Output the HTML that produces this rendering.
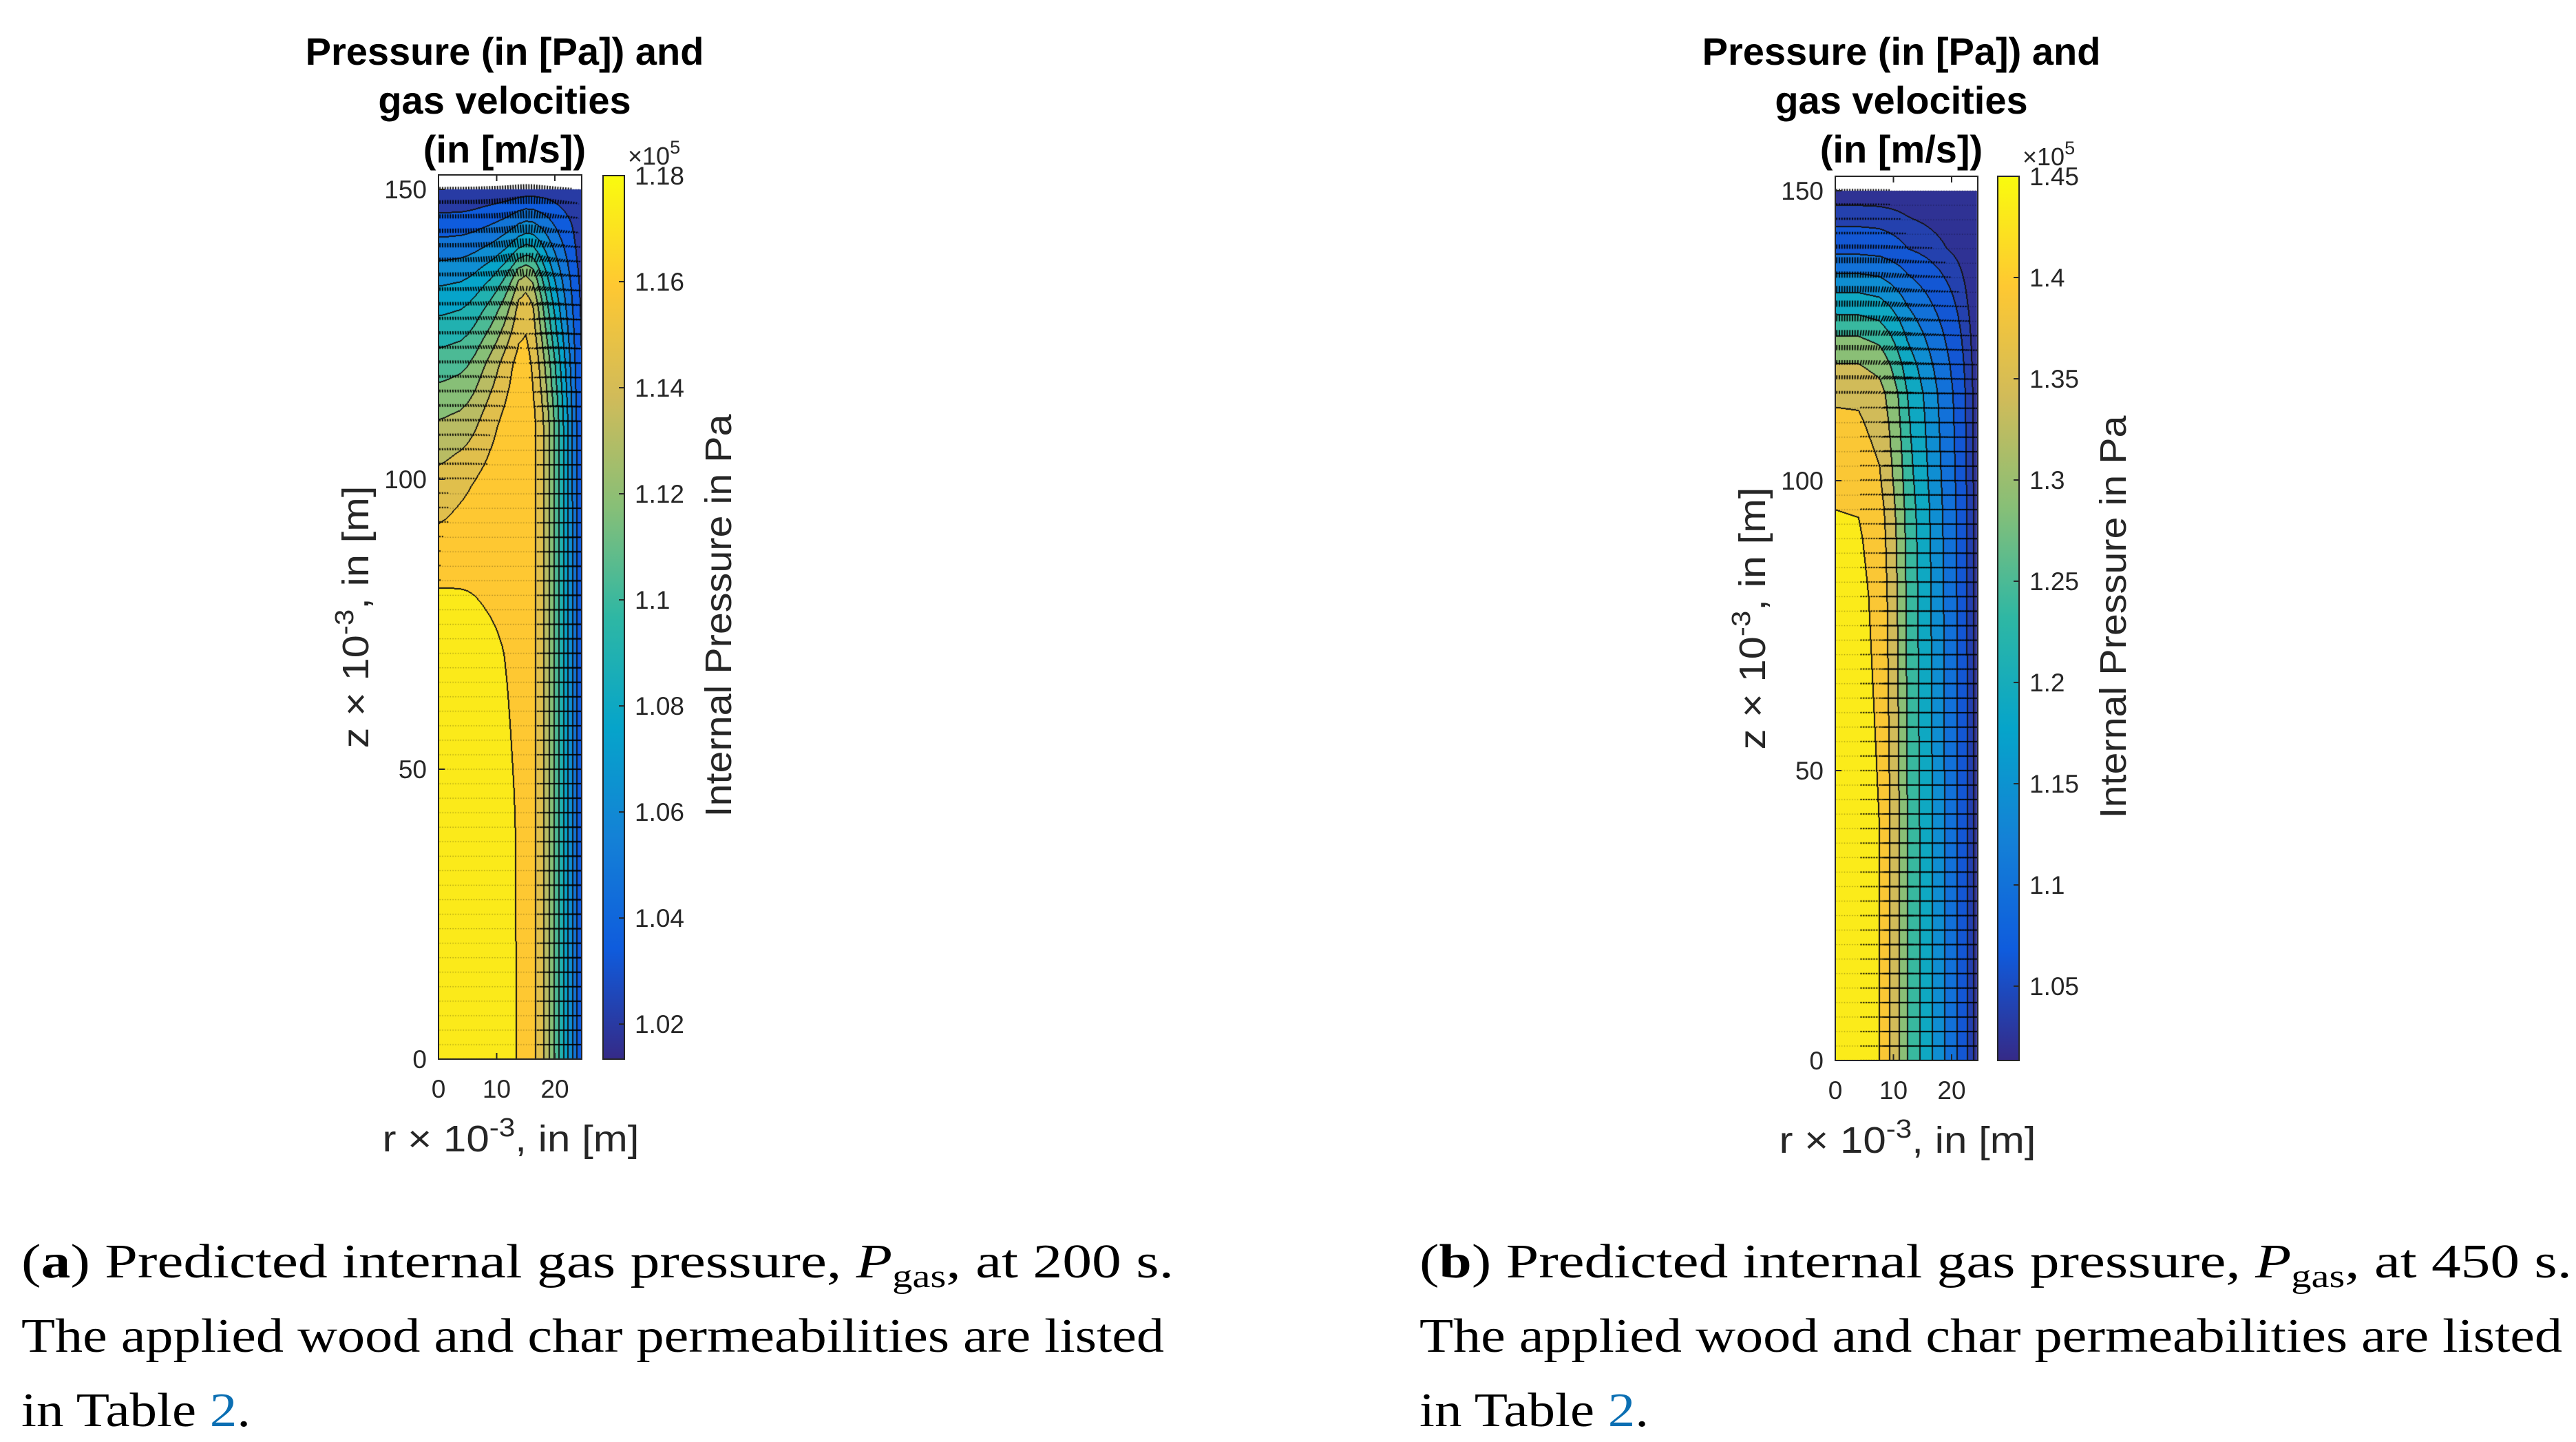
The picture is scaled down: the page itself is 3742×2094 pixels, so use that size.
<!DOCTYPE html>
<html><head><meta charset="utf-8">
<style>
html,body{margin:0;padding:0;background:#fff;}
#page{position:relative;width:3742px;height:2094px;overflow:hidden;background:#fff;}
canvas{position:absolute;}
svg{position:absolute;left:0;top:0;}
</style></head>
<body>
<div id="page">
<canvas id="cvA" style="left:637px;top:254px" width="208" height="1284"></canvas>
<canvas id="cvB" style="left:2666px;top:256px" width="207" height="1284"></canvas>
<svg id="svg" width="3742" height="2094" font-family="'Liberation Sans', Arial, sans-serif">
<defs>
<linearGradient id="parulaGrad" x1="0" y1="1" x2="0" y2="0">
<stop offset="0" stop-color="#352a87"/><stop offset="0.125" stop-color="#0f5cdd"/><stop offset="0.25" stop-color="#1481d6"/><stop offset="0.375" stop-color="#06a4ca"/><stop offset="0.5" stop-color="#2eb7a4"/><stop offset="0.625" stop-color="#87bf77"/><stop offset="0.75" stop-color="#d1bb59"/><stop offset="0.875" stop-color="#fec832"/><stop offset="1" stop-color="#f9fb0e"/>
</linearGradient>
</defs>
<g id="gA"></g>
<g id="gB"></g>
<g font-family="'Liberation Serif', serif" font-size="70" fill="#000">
<text x="31" y="1855" textLength="1674" lengthAdjust="spacingAndGlyphs">(<tspan font-weight="bold">a</tspan>) Predicted internal gas pressure, <tspan font-style="italic">P</tspan><tspan font-size="48" dy="14">gas</tspan><tspan dy="-14">, at 200 s.</tspan></text>
<text x="31" y="1963" textLength="1660" lengthAdjust="spacingAndGlyphs">The applied wood and char permeabilities are listed</text>
<text x="31" y="2071" textLength="333" lengthAdjust="spacingAndGlyphs">in Table <tspan fill="#0b6fb3">2</tspan>.</text>
</g>
<g font-family="'Liberation Serif', serif" font-size="70" fill="#000">
<text x="2062" y="1855" textLength="1674" lengthAdjust="spacingAndGlyphs">(<tspan font-weight="bold">b</tspan>) Predicted internal gas pressure, <tspan font-style="italic">P</tspan><tspan font-size="48" dy="14">gas</tspan><tspan dy="-14">, at 450 s.</tspan></text>
<text x="2062" y="1963" textLength="1660" lengthAdjust="spacingAndGlyphs">The applied wood and char permeabilities are listed</text>
<text x="2062" y="2071" textLength="333" lengthAdjust="spacingAndGlyphs">in Table <tspan fill="#0b6fb3">2</tspan>.</text>
</g>
</svg>
</div>
<script>
// ---------- Panel A data (pressure x1e5 Pa on r,z grid) ----------
const R_A = [0,5,10,13,15,16.5,18,19.5,21,22.5,24,25];
const Z_A = [0,40,70,80,90,100,110,120,130,135,140,145,150];
const P_A = [
[1.176,1.176,1.173,1.169,1.160,1.157,1.143,1.118,1.093,1.066,1.036,1.018],
[1.176,1.176,1.172,1.168,1.160,1.157,1.143,1.118,1.093,1.066,1.036,1.018],
[1.174,1.173,1.168,1.164,1.160,1.157,1.143,1.118,1.093,1.066,1.036,1.018],
[1.168,1.167,1.164,1.162,1.160,1.157,1.143,1.118,1.093,1.066,1.036,1.018],
[1.155,1.160,1.162,1.161,1.160,1.157,1.143,1.118,1.093,1.066,1.036,1.018],
[1.142,1.150,1.160,1.160,1.160,1.157,1.143,1.118,1.093,1.066,1.035,1.018],
[1.125,1.130,1.152,1.160,1.160,1.157,1.142,1.117,1.092,1.065,1.035,1.018],
[1.103,1.108,1.135,1.155,1.162,1.150,1.130,1.105,1.082,1.058,1.032,1.017],
[1.078,1.082,1.105,1.130,1.160,1.135,1.110,1.085,1.065,1.048,1.030,1.017],
[1.064,1.067,1.085,1.110,1.140,1.115,1.093,1.072,1.056,1.042,1.028,1.017],
[1.047,1.049,1.060,1.075,1.090,1.085,1.070,1.055,1.045,1.035,1.025,1.016],
[1.030,1.031,1.038,1.045,1.055,1.050,1.045,1.040,1.032,1.028,1.022,1.016],
[1.015,1.015,1.017,1.018,1.020,1.020,1.020,1.020,1.018,1.017,1.016,1.015]];
const LEVELS_A = [1.0273,1.0412,1.0551,1.069,1.0829,1.0968,1.1107,1.1246,1.1385,1.1524,1.1663];
const CLIM_A = [1.0134,1.18];
const CTICKS_A = [1.02,1.04,1.06,1.08,1.1,1.12,1.14,1.16,1.18];
// ---------- Panel B data (radial and axial pressure profiles) ----------
const R_B = [0,4,7.6,9.4,11,12.4,14.5,16.7,18.8,21,22.7,24.5];
const PR_B = [1.445,1.443,1.415,1.367,1.315,1.262,1.214,1.164,1.12,1.078,1.046,1.02];
const Z_B = [0,40,80,90,95,100,110,115,120,125,130,135,140,145,150];
const PZ_B = [1.445,1.445,1.43,1.422,1.415,1.40,1.375,1.36,1.318,1.262,1.197,1.13,1.066,1.04,1.02];
const LEVELS_B = [1.03,1.046,1.078,1.12,1.164,1.214,1.262,1.315,1.367,1.415];
const CLIM_B = [1.0133,1.45];
const CTICKS_B = [1.05,1.1,1.15,1.2,1.25,1.3,1.35,1.4,1.45];
// ---------- Axes ticks ----------
const ZTICKS = [0,50,100,150];
const RTICKS = [0,10,20];

const PAR = [[53,42,135],[15,92,221],[20,129,214],[6,164,202],[46,183,164],[135,191,119],[209,187,89],[254,200,50],[249,251,14]];
function parula(t){t=Math.max(0,Math.min(1,t));const f=t*8;const i=Math.min(7,Math.floor(f));const u=f-i;
 return PAR[i].map((c,k)=>Math.round(c+(PAR[i+1][k]-c)*u));}
function seg(A,x){let i=0;while(i<A.length-2&&x>A[i+1])i++;let u=(x-A[i])/(A[i+1]-A[i]);u=Math.max(0,Math.min(1,u));return [i,u];}
function interp1(X,Y,x){const [i,u]=seg(X,x);return Y[i]+(Y[i+1]-Y[i])*u;}
function rawA(r,z){const [i,u]=seg(R_A,r);const [j,v]=seg(Z_A,z);
 const a=P_A[j][i],b=P_A[j][i+1],c=P_A[j+1][i],d=P_A[j+1][i+1];
 return a*(1-u)*(1-v)+b*u*(1-v)+c*(1-u)*v+d*u*v;}
const OFF=[-1.2,0,1.2];
function fieldA(r,z){let s=0;for(const a of OFF)for(const b of OFF)s+=rawA(Math.max(0,r+a),Math.min(150,Math.max(0,z+b)));return s/9;}
const PMAX_B=Math.max(...PR_B,...PZ_B), PMIN_B=Math.min(...PR_B,...PZ_B);
function fieldB(r,z){const D=PMAX_B-PMIN_B;const fr=(PMAX_B-interp1(R_B,PR_B,r))/D;const fz=(PMAX_B-interp1(Z_B,PZ_B,z))/D;
 return PMAX_B-D*(1-(1-fr)*(1-fz));}

const SX=8.45, SY=8.42, ZTOP=152.5;
function drawPanel(cv,field,levels,clim,rmax,KR,KZ){
 const ctx=cv.getContext('2d');const W=cv.width,H=cv.height;
 const img=ctx.createImageData(W,H);const d=img.data;
 const y150=Math.round((ZTOP-150)*SY);
 const band=new Int16Array(W*H).fill(-1);
 const cols=[];
 for(let k=0;k<=levels.length;k++){const lo=k==0?clim[0]:levels[k-1];const hi=k==levels.length?clim[1]:levels[k];cols.push(parula(((lo+hi)/2-clim[0])/(clim[1]-clim[0])));}
 const wmax=Math.round(rmax*SX);
 for(let y=y150;y<H;y++){const z=ZTOP-(y+0.5)/SY;
  for(let x=0;x<Math.min(W,wmax);x++){const r=(x+0.5)/SX;const v=field(r,z);let k=0;while(k<levels.length&&v>levels[k])k++;band[y*W+x]=k;}}
 for(let y=0;y<H;y++)for(let x=0;x<W;x++){const p=(y*W+x)*4;const b=band[y*W+x];
  if(b<0){d[p]=255;d[p+1]=255;d[p+2]=255;d[p+3]=255;continue;}
  let edge=false;
  if(x+1<W&&band[y*W+x+1]>=0&&band[y*W+x+1]!=b)edge=true;
  if(x>0&&band[y*W+x-1]>=0&&band[y*W+x-1]!=b)edge=true;
  if(y+1<H&&band[(y+1)*W+x]!=b&&band[(y+1)*W+x]>=0)edge=true;
  if(y>0&&band[(y-1)*W+x]>=0&&band[(y-1)*W+x]!=b)edge=true;
  const c=edge?[20,20,20]:cols[b];d[p]=c[0];d[p+1]=c[1];d[p+2]=c[2];d[p+3]=255;}
 ctx.putImageData(img,0,0);
 ctx.strokeStyle='#000';ctx.lineWidth=1.8;ctx.lineCap='butt';
 const rng=clim[1]-clim[0],h=0.25;
 for(let z=0;z<=150.01;z+=2.5){for(let r=0.25;r<rmax-0.2;r+=0.45){
  const gr=(field(r+h,z)-field(Math.max(0,r-h),z))/(r-Math.max(0,r-h)+h);
  const gz=(field(r,Math.min(150,z+h))-field(r,Math.max(0,z-h)))/((Math.min(150,z+h))-Math.max(0,z-h));
  let dx=-gr/rng*KR, dy=-gz/rng*KZ;const L=Math.hypot(dx,dy);const cap=13;
  if(L>cap){dx*=cap/L;dy*=cap/L;}
  const x0=r*SX,y0=(ZTOP-z)*SY;
  if(Math.hypot(dx,dy)<2.2){ctx.fillStyle='rgba(0,0,0,0.45)';ctx.fillRect(x0-0.6,y0-0.6,1.2,1.2);continue;}
  ctx.beginPath();ctx.moveTo(x0,y0);ctx.lineTo(x0+dx,y0-dy);ctx.stroke();}}
}
drawPanel(document.getElementById('cvA'),fieldA,LEVELS_A,CLIM_A,24.6,65,300);
drawPanel(document.getElementById('cvB'),fieldB,LEVELS_B,CLIM_B,24.4,130,300);

const NS='http://www.w3.org/2000/svg';
function el(tag,attrs,parent,txt){const e=document.createElementNS(NS,tag);for(const k in attrs)e.setAttribute(k,attrs[k]);if(txt!==undefined)e.textContent=txt;parent.appendChild(e);return e;}
function axes(g,X0,Y0,W,H,cbx,clim,cticks,cbTop,titleX){
 const y0=Y0+H;
 const frame=el('rect',{x:X0,y:Y0,width:W,height:H,fill:'none',stroke:'#262626','stroke-width':2},g);
 
 
 ZTICKS.forEach(z=>{const y=y0-z*SY;
  const t=el('line',{x1:X0,y1:y,x2:X0+9,y2:y,stroke:'#262626','stroke-width':2},g);
  
  
  const lb=el('text',{x:X0-17,y:y+13,'text-anchor':'end','font-size':37,fill:'#262626'},g,String(z));
  
  });
 RTICKS.forEach(r=>{const x=X0+r*SX;
  const t=el('line',{x1:x,y1:y0,x2:x,y2:y0-9,stroke:'#262626','stroke-width':2},g);
  
  
  const t2=el('line',{x1:x,y1:Y0,x2:x,y2:Y0+9,stroke:'#262626','stroke-width':2},g);
  
  
  const lb=el('text',{x:x,y:y0+56,'text-anchor':'middle','font-size':37,fill:'#262626'},g,String(r));
  
  });
 const cbH=y0-cbTop;
 const cb=el('rect',{x:cbx,y:cbTop,width:31,height:cbH,fill:'url(#parulaGrad)',stroke:'#262626','stroke-width':2},g);
 
 
 cticks.forEach(v=>{const y=y0-(v-clim[0])/(clim[1]-clim[0])*cbH;
  const t=el('line',{x1:cbx+31,y1:y,x2:cbx+23,y2:y,stroke:'#262626','stroke-width':2},g);
  
  
  const lb=el('text',{x:cbx+46,y:y+13,'font-size':37,fill:'#262626'},g,String(v));
  
  });
 const ex=el('text',{x:cbx+36,y:cbTop-16,'font-size':36,fill:'#262626'},g,'×10');
 
 
 el('tspan',{dy:-16,'font-size':27},ex,'5');
 ['Pressure (in [Pa]) and','gas velocities','(in [m/s])'].forEach((s,i)=>{
  const t=el('text',{x:titleX,y:94+i*71,'text-anchor':'middle','font-size':56,'font-weight':'bold',fill:'#000'},g,s);
  
  });
 const yl=el('text',{transform:`translate(${X0-102},${Y0+642}) rotate(-90)`,'text-anchor':'middle','font-size':54,fill:'#262626',textLength:381,lengthAdjust:'spacingAndGlyphs'},g);
 
 
 yl.appendChild(document.createTextNode('z × 10'));el('tspan',{dy:-22,'font-size':38},yl,'-3');el('tspan',{dy:22},yl,', in [m]');
 const xl=el('text',{x:X0+105,y:y0+134,'text-anchor':'middle','font-size':54,fill:'#262626',textLength:373,lengthAdjust:'spacingAndGlyphs'},g);
 
 
 xl.appendChild(document.createTextNode('r × 10'));el('tspan',{dy:-22,'font-size':38},xl,'-3');el('tspan',{dy:22},xl,', in [m]');
 const cl=el('text',{transform:`translate(${cbx+186},${Y0+640}) rotate(-90)`,'text-anchor':'middle','font-size':54,fill:'#262626',textLength:585,lengthAdjust:'spacingAndGlyphs'},g,'Internal Pressure in Pa');
 
 
}
axes(document.getElementById('gA'),637,254,208,1284,876,CLIM_A,CTICKS_A,255,733);
axes(document.getElementById('gB'),2666,256,207,1284,2902,CLIM_B,CTICKS_B,256,2762);
</script>
</body></html>
